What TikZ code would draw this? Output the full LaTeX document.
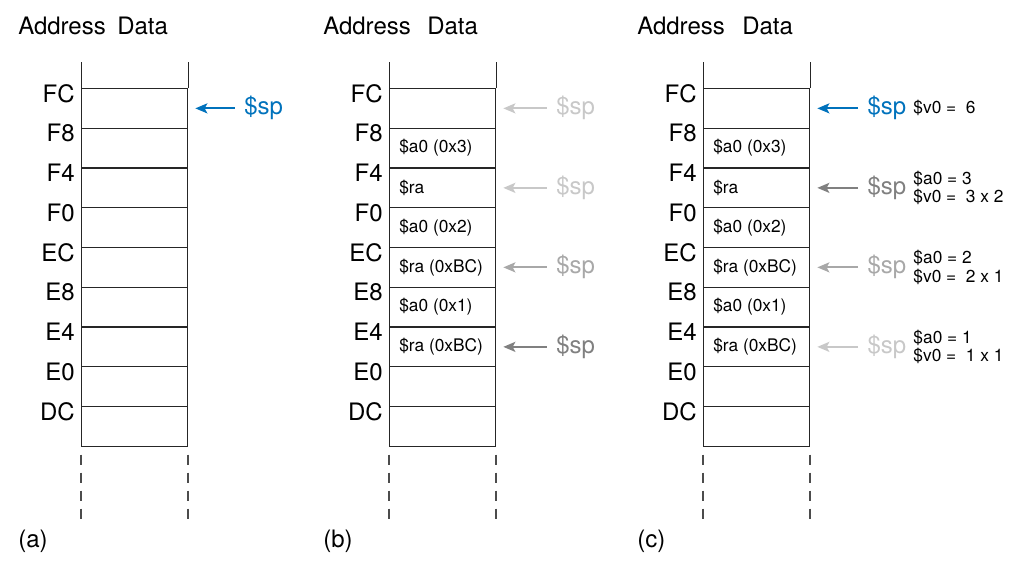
\documentclass[tikz,border=0pt]{standalone}
\usepackage{fontspec}
\setmainfont{TeX Gyre Heros}
\usetikzlibrary{arrows.meta,positioning}
\definecolor{spblue}{RGB}{0,114,188}
\definecolor{spdark}{RGB}{128,128,128}
\definecolor{spmid}{RGB}{168,168,168}
\definecolor{splight}{RGB}{200,200,200}

\begin{document}
\begin{tikzpicture}[x=0.75pt,y=-0.75pt,
  cell/.style={rectangle, draw=black!85, line width=0.75pt, minimum width=79.5pt, minimum height=29.8pt, inner sep=0pt, anchor=north west},
  big/.style={font=\fontsize{18}{20}\selectfont, inner sep=0pt},
  small/.style={font=\fontsize{13}{14}\selectfont, inner sep=0pt},
  ptr/.style={-{Stealth[length=9pt,width=7.5pt,inset=2pt]}, line width=1.4pt, shorten >=5.5pt, shorten <=7pt},
  edge/.style={draw=black!85, line width=0.75pt}]
\useasboundingbox (0,0) rectangle (1018,564);

% the three stacks
\foreach \p/\X/\H/\D in {a/81/18/117,b/389/323/427,c/703/637/742} {
  \node[big, anchor=base west] (\p addr) at (\H,35) {Address};
  \node[big, anchor=base west] (\p data) at (\D,35) {Data};
  \foreach \lab [count=\i from 0] in {FC,F8,F4,F0,EC,E8,E4,E0,DC} {
    \node[cell] (\p\i) at (\X,{88+39.75*\i}) {};
    \node[big, anchor=base east] (\p l\i) at ([xshift=-4.5pt,yshift=-10.5pt]\p\i.north west) {\lab};
  }
  \draw[edge] (\p0.north west) -- ++(0,-26);
  \draw[edge] (\p0.north east) -- ++(0,-26);
  \draw[edge, draw=black!70, line width=0.85pt, dash pattern=on 7.5pt off 6pt] ([yshift=-6pt]\p8.south west) -- ++(0,65);
  \draw[edge, draw=black!70, line width=0.85pt, dash pattern=on 7.5pt off 6pt] ([yshift=-6pt]\p8.south east) -- ++(0,65);
}

% saved registers
\foreach \p in {b,c} {
  \node[small, anchor=west] (\p t1) at ([xshift=7.5pt]\p1.west) {\$a0 (0x3)};
  \node[small, anchor=west] (\p t2) at ([xshift=7.5pt]\p2.west) {\$ra};
  \node[small, anchor=west] (\p t3) at ([xshift=7.5pt]\p3.west) {\$a0 (0x2)};
  \node[small, anchor=west] (\p t4) at ([xshift=7.5pt]\p4.west) {\$ra (0xBC)};
  \node[small, anchor=west] (\p t5) at ([xshift=7.5pt]\p5.west) {\$a0 (0x1)};
  \node[small, anchor=west] (\p t6) at ([xshift=7.5pt]\p6.west) {\$ra (0xBC)};
}

% stack pointer (a)
\node[big, text=spblue, right=42pt of a0] (spa0) {\$sp};
\draw[ptr, spblue] (spa0) -- (a0);

% stack pointer (b)
\node[big, text=splight, right=45pt of b0] (spb0) {\$sp};
\node[big, text=splight, right=45pt of b2] (spb2) {\$sp};
\node[big, text=spmid, right=45pt of b4] (spb4) {\$sp};
\node[big, text=spdark, right=45pt of b6] (spb6) {\$sp};
\draw[ptr, splight] (spb0) -- (b0);
\draw[ptr, splight] (spb2) -- (b2);
\draw[ptr, spmid] (spb4) -- (b4);
\draw[ptr, spdark] (spb6) -- (b6);

% stack pointer (c)
\node[big, text=spblue, right=43pt of c0] (spc0) {\$sp};
\node[big, text=spdark, right=43pt of c2] (spc2) {\$sp};
\node[big, text=spmid, right=43pt of c4] (spc4) {\$sp};
\node[big, text=splight, right=43pt of c6] (spc6) {\$sp};
\draw[ptr, spblue] (spc0) -- (c0);
\draw[ptr, spdark] (spc2) -- (c2);
\draw[ptr, spmid] (spc4) -- (c4);
\draw[ptr, splight] (spc6) -- (c6);

\node[small, align=left, right=5pt of spc0] (ret0) {\$v0 = \ 6};
\node[small, align=left, right=5pt of spc2] (ret2) {\$a0 = 3\\\$v0 = \ 3 x 2};
\node[small, align=left, right=5pt of spc4] (ret4) {\$a0 = 2\\\$v0 = \ 2 x 1};
\node[small, align=left, right=5pt of spc6] (ret6) {\$a0 = 1\\\$v0 = \ 1 x 1};

% captions
\node[big, anchor=base west] (capa) at (18,547) {(a)};
\node[big, anchor=base west] (capb) at (323,547) {(b)};
\node[big, anchor=base west] (capc) at (637,547) {(c)};
\end{tikzpicture}
\end{document}
